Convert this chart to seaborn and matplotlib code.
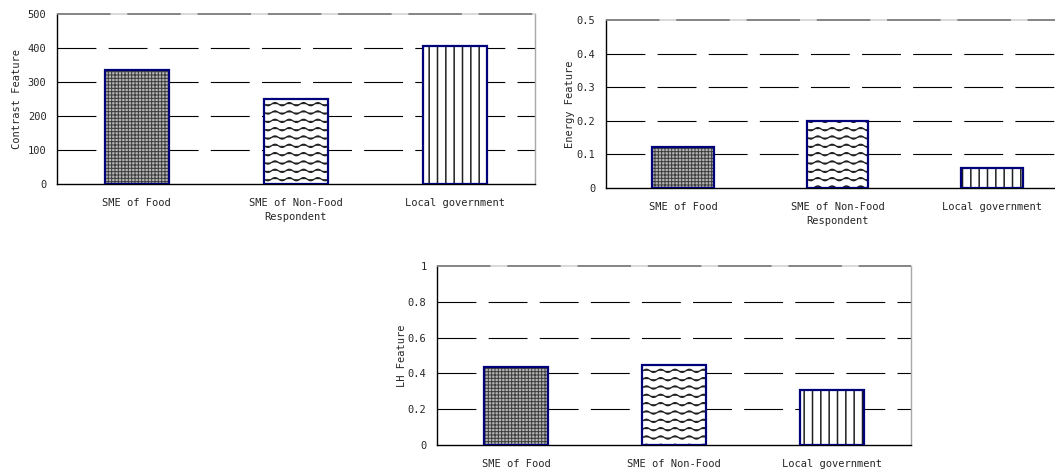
import warnings
import numpy as np
import seaborn as sns
import matplotlib
matplotlib.use("Agg")
import matplotlib.pyplot as plt
from matplotlib import hatch as mhatch
from matplotlib.path import Path
from matplotlib.patches import Rectangle
from matplotlib.ticker import FuncFormatter

categories = ["SME of Food", "SME of Non-Food", "Local government"]
contrast = [335, 250, 405]
energy = [0.121, 0.199, 0.060]
lh = [0.437, 0.447, 0.306]

contrast_ticks = [0, 100, 200, 300, 400, 500]
energy_ticks = [0, 0.1, 0.2, 0.3, 0.4, 0.5]
lh_ticks = [0, 0.2, 0.4, 0.6, 0.8, 1.0]

# fill style per respondent group
hatches = ["+++++", "~~", "||"]
faces = ["#b4b4b4", "white", "white"]
hatch_colors = ["#3c3c3c", "#202020", "#202020"]
hatch_widths = [0.7, 0.9, 1.1]
EDGE = "#00007a"


class WaveHatch(mhatch.HatchPatternBase):
    # wavy horizontal lines, each '~' gives 6 rows per inch
    periods = 7
    steps = 10
    amp = 0.016

    def __init__(self, hatch, density):
        self.num_rows = int(hatch.count("~") * density)
        self.per_row = self.periods * self.steps + 1
        self.num_vertices = self.num_rows * self.per_row

    def set_vertices_and_codes(self, vertices, codes):
        xs = np.linspace(0, 1, self.per_row)
        for i in range(self.num_rows):
            y0 = (i + 0.5) / self.num_rows
            sl = slice(i * self.per_row, (i + 1) * self.per_row)
            vertices[sl, 0] = xs
            vertices[sl, 1] = y0 + self.amp * np.sin(2 * np.pi * self.periods * xs)
            codes[sl] = Path.LINETO
            codes[i * self.per_row] = Path.MOVETO


mhatch._hatch_types.append(WaveHatch)

sns.set_style("white")
plt.rcParams["font.family"] = ["DejaVu Sans Mono", "DejaVu Sans"]
plt.rcParams["font.size"] = 7.5
plt.rcParams["hatch.linewidth"] = 0.9


def tick_fmt(v, pos):
    return f"{v:g}"


def feature_panel(ax, values, yticks, ylabel, label_x, right_spine=True):
    sns.barplot(x=categories, y=values, color="white", width=0.4,
                saturation=1, ax=ax)
    ax.set_xlim(-0.5, len(categories) - 0.5)
    ax.set_ylim(yticks[0], yticks[-1])
    ax.set_yticks(yticks)
    ax.yaxis.set_major_formatter(FuncFormatter(tick_fmt))

    # dashed gridlines behind the bars
    for t in yticks[1:-1]:
        ax.axhline(t, color="black", lw=0.8, ls=(0, (35, 11)), zorder=0.5)
    ax.axhline(yticks[-1], color="#6e6e6e", lw=1.1, ls=(0, (35, 11)),
               zorder=2.7, clip_on=False)

    with warnings.catch_warnings():
        warnings.simplefilter("ignore")
        for p, h, fc, hc, hw in zip(ax.patches, hatches, faces,
                                    hatch_colors, hatch_widths):
            p.set_facecolor(fc)
            p.set_edgecolor(hc)
            p.set_linewidth(0)
            p.set_hatch(h)
            if hasattr(p, "set_hatch_linewidth"):
                p.set_hatch_linewidth(hw)
            p.set_zorder(2)
            ax.add_patch(Rectangle(p.get_xy(), p.get_width(), p.get_height(),
                                   fill=False, edgecolor=EDGE, lw=1.6, zorder=3))

    for s in ["left", "bottom"]:
        ax.spines[s].set_color("black")
        ax.spines[s].set_linewidth(1.0)
    ax.spines["top"].set_color("#cfcfcf")
    ax.spines["top"].set_linewidth(1.1)
    ax.spines["right"].set_visible(right_spine)
    ax.spines["right"].set_color("#a8a8a8")
    ax.spines["right"].set_linewidth(1.0)

    ax.set_xticks([0.5, 1.5], minor=True)
    ax.tick_params(axis="x", which="major", length=0, pad=10, labelsize=7.5)
    ax.tick_params(axis="x", which="minor", direction="in", length=3,
                   width=0.8, color="black")
    ax.tick_params(axis="y", length=0, pad=7.5, labelsize=7.5)

    ax.set_xlabel("Respondent", labelpad=3)
    ax.set_ylabel(ylabel)
    ax.yaxis.set_label_coords(label_x, 0.5)


fig = plt.figure(figsize=(10.55, 4.70), dpi=100)
ax1 = fig.add_axes([0.0540, 0.6085, 0.4531, 0.3617])
ax2 = fig.add_axes([0.5741, 0.6004, 0.4393, 0.3566])
ax3 = fig.add_axes([0.4142, 0.0532, 0.4493, 0.3809])

feature_panel(ax1, contrast, contrast_ticks, "Contrast Feature", -0.073)
feature_panel(ax2, energy, energy_ticks, "Energy Feature", -0.066, right_spine=False)
feature_panel(ax3, lh, lh_ticks, "LH Feature", -0.063)

fig.savefig("out.png", dpi=100)
